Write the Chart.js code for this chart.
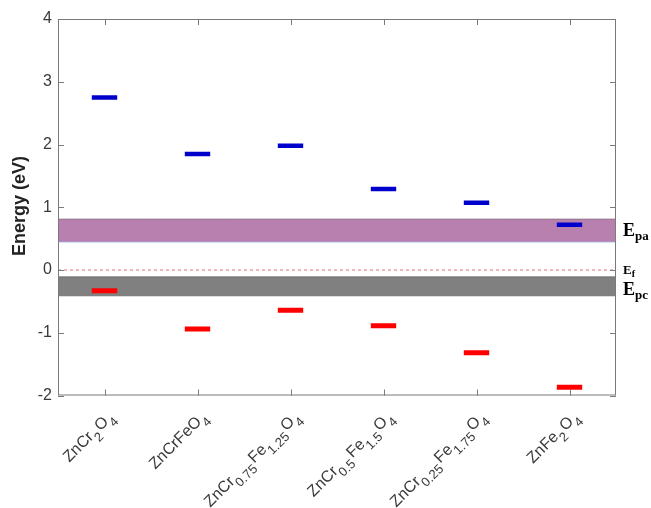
<!DOCTYPE html>
<html>
<head>
<meta charset="utf-8">
<script src="https://cdn.jsdelivr.net/npm/chart.js@4"></script>
<style>
  html, body { margin: 0; padding: 0; background: #fff; }
  #wrap { width: 651px; height: 508px; }
</style>
</head>
<body>
<div id="wrap"><canvas id="levels"></canvas></div>
<script>
// Band edge positions for the ZnCr(2-x)Fe(x)O4 series.
const compounds = ['ZnCr_{2}O_{4}', 'ZnCrFeO_{4}', 'ZnCr_{0.75}Fe_{1.25}O_{4}',
                   'ZnCr_{0.5}Fe_{1.5}O_{4}', 'ZnCr_{0.25}Fe_{1.75}O_{4}', 'ZnFe_{2}O_{4}'];
const cbEdges = [2.75, 1.85, 1.98, 1.29, 1.07, 0.72];        // blue marks
const vbEdges = [-0.33, -0.94, -0.64, -0.89, -1.32, -1.87];  // red marks
const paBand = [0.45, 0.81];    // E_pa
const pcBand = [-0.41, -0.11];  // E_pc
const fermi = 0;                // E_f
const yRange = [-2, 4];

const xMin = -0.5, xMax = compounds.length - 0.5;

function marks(vals) {
  return vals.map(function(v, i) { return { x: i, y: v }; });
}
function flat(v) {
  return [{ x: xMin, y: v }, { x: xMax, y: v }];
}

// split 'ZnCr_{2}O_{4}' into [text, isSub] pieces
function parseFormula(s) {
  var parts = [];
  var re = /_\{([^}]*)\}|([^_]+)/g, m;
  while ((m = re.exec(s)) !== null) {
    if (m[1] !== undefined) parts.push([m[1], true]);
    else parts.push([m[2], false]);
  }
  return parts;
}

var MAIN_FONT = '16px "Liberation Sans", Arial, sans-serif';
var SUB_FONT = '13px "Liberation Sans", Arial, sans-serif';
var AXIS_COLOR = '#7a7a7a';
var TEXT_COLOR = '#3a3a3a';

var decorPlugin = {
  id: 'decor',
  afterDatasetsDraw: function(chart) {
    var ctx = chart.ctx, a = chart.chartArea;
    var xs = chart.scales.x, ys = chart.scales.y;
    ctx.save();
    // box
    ctx.strokeStyle = AXIS_COLOR;
    ctx.lineWidth = 1;
    ctx.strokeRect(a.left + 0.5, a.top + 0.5, a.right - a.left - 1, a.bottom - a.top - 1);
    // inward ticks on all four sides
    ctx.beginPath();
    for (var i = 0; i < compounds.length; i++) {
      var px = Math.round(xs.getPixelForValue(i)) + 0.5;
      ctx.moveTo(px, a.bottom); ctx.lineTo(px, a.bottom - 6);
      ctx.moveTo(px, a.top); ctx.lineTo(px, a.top + 6);
    }
    for (var v = yRange[0]; v <= yRange[1]; v++) {
      var py = Math.round(ys.getPixelForValue(v)) + 0.5;
      ctx.moveTo(a.left, py); ctx.lineTo(a.left + 6, py);
      ctx.moveTo(a.right, py); ctx.lineTo(a.right - 6, py);
    }
    ctx.stroke();
    ctx.restore();
  },
  afterDraw: function(chart) {
    var ctx = chart.ctx, a = chart.chartArea;
    var xs = chart.scales.x, ys = chart.scales.y;
    ctx.save();
    ctx.fillStyle = TEXT_COLOR;
    // rotated formula tick labels
    compounds.forEach(function(label, i) {
      var parts = parseFormula(label);
      var w = 0;
      parts.forEach(function(p) {
        ctx.font = p[1] ? SUB_FONT : MAIN_FONT;
        p.push(ctx.measureText(p[0]).width + (p[1] ? 1.5 : 0));
        w += p[2];
      });
      ctx.save();
      ctx.translate(xs.getPixelForValue(i) + 11, a.bottom + 21);
      ctx.rotate(-Math.PI / 4);
      ctx.textBaseline = 'alphabetic';
      ctx.textAlign = 'left';
      var x = -w;
      parts.forEach(function(p) {
        ctx.font = p[1] ? SUB_FONT : MAIN_FONT;
        ctx.fillText(p[0], x, p[1] ? 7 : 0);
        x += p[2];
      });
      ctx.restore();
    });
    // y title
    ctx.save();
    ctx.translate(20, 206);
    ctx.rotate(-Math.PI / 2);
    ctx.font = 'bold 18px "Liberation Sans", Arial, sans-serif';
    ctx.textAlign = 'center';
    ctx.textBaseline = 'middle';
    ctx.fillStyle = '#222';
    ctx.fillText('Energy (eV)', 0, 0);
    ctx.restore();
    // level names on the right
    function level(name, sub, val, big, small, dy) {
      var y = ys.getPixelForValue(val) + dy;
      ctx.fillStyle = '#000';
      ctx.textAlign = 'left';
      ctx.textBaseline = 'alphabetic';
      ctx.font = 'bold ' + big + 'px "Liberation Serif", "Times New Roman", serif';
      ctx.fillText(name, a.right + 7, y);
      var wE = ctx.measureText(name).width;
      ctx.font = 'bold ' + small + 'px "Liberation Serif", "Times New Roman", serif';
      ctx.fillText(sub, a.right + 7 + wE, y + big * 0.22);
    }
    level('E', 'pa', (paBand[0] + paBand[1]) / 2, 18, 13, 6);
    level('E', 'f', fermi, 13, 10, 4);
    level('E', 'pc', (pcBand[0] + pcBand[1]) / 2, 18, 13, 9);
    ctx.restore();
  }
};

new Chart(document.getElementById('levels').getContext('2d'), {
  type: 'scatter',
  plugins: [decorPlugin],
  data: {
    datasets: [
      {
        label: 'pa top', type: 'line', data: flat(paBand[1]),
        borderColor: '#8a6a86', borderWidth: 1, pointRadius: 0,
        backgroundColor: '#b880ae', fill: '+1', order: 5
      },
      {
        label: 'pa bottom', type: 'line', data: flat(paBand[0]),
        borderColor: '#a9c8f2', borderWidth: 1.5, pointRadius: 0, fill: false, order: 5
      },
      {
        label: 'pc top', type: 'line', data: flat(pcBand[1]),
        borderColor: '#6a6a6a', borderWidth: 1, pointRadius: 0,
        backgroundColor: '#808080', fill: '+1', order: 5
      },
      {
        label: 'pc bottom', type: 'line', data: flat(pcBand[0]),
        borderColor: '#6a6a6a', borderWidth: 1, pointRadius: 0, fill: false, order: 5
      },
      {
        label: 'Ef', type: 'line', data: flat(fermi),
        borderColor: '#e07070', borderWidth: 1, borderDash: [3, 3],
        pointRadius: 0, fill: false, order: 4
      },
      {
        label: 'CB', data: marks(cbEdges), pointStyle: 'line',
        pointRadius: 12.7, borderColor: '#0000cc', borderWidth: 4.5, order: 1
      },
      {
        label: 'VB', data: marks(vbEdges), pointStyle: 'line',
        pointRadius: 12.7, borderColor: '#ff0000', borderWidth: 5, order: 1
      }
    ]
  },
  options: {
    responsive: true,
    maintainAspectRatio: false,
    animation: false,
    events: [],
    layout: { padding: { top: 19, right: 35, left: 0, bottom: 0 } },
    scales: {
      x: {
        type: 'linear', min: xMin, max: xMax,
        grid: { display: false, drawTicks: false },
        border: { display: false },
        ticks: { display: false },
        afterFit: function(s) { s.height = 112.5; }
      },
      y: {
        min: yRange[0], max: yRange[1],
        grid: { display: false, drawTicks: false },
        border: { display: false },
        ticks: {
          stepSize: 1, padding: 6, color: TEXT_COLOR,
          font: { size: 16, family: '"Liberation Sans", Arial, sans-serif' }
        },
        afterFit: function(s) { s.width = 58; }
      }
    },
    plugins: {
      legend: { display: false },
      tooltip: { enabled: false }
    }
  }
});
</script>
</body>
</html>
